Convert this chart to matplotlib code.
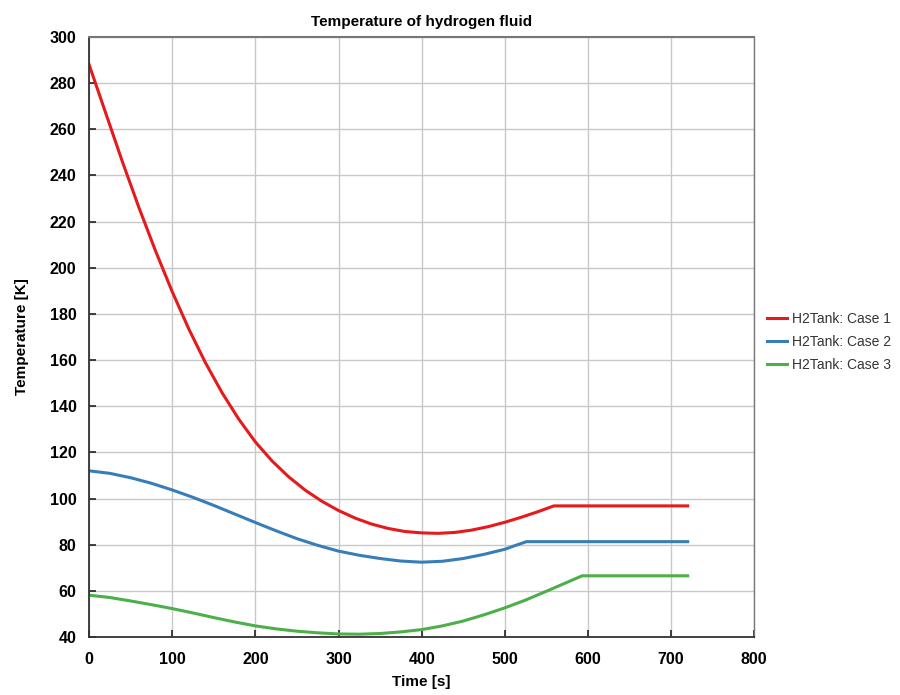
import matplotlib.pyplot as plt

plt.rcParams['font.family'] = ['Liberation Sans', 'DejaVu Sans']

# Case 1
t1 = [0, 20, 40, 60, 80, 100, 120, 140, 160, 180, 200, 220, 240, 260, 280,
      300, 320, 340, 360, 380, 400, 420, 440, 460, 480, 500, 520, 540, 559, 720]
temp1 = [288, 267, 246, 226, 207.2, 189.6, 173.4, 158.8, 145.8, 134.4, 124.5,
         116.3, 109.4, 103.6, 98.8, 94.8, 91.5, 88.9, 87.0, 85.7, 85.1, 84.9,
         85.3, 86.3, 87.8, 89.7, 91.9, 94.3, 96.8, 96.8]

# Case 2
t2 = [0, 25, 50, 75, 100, 125, 150, 175, 200, 225, 250, 275, 300, 325, 350,
      375, 400, 425, 450, 475, 500, 510, 526, 720]
temp2 = [112, 110.9, 109, 106.6, 103.7, 100.5, 97, 93.3, 89.6, 86, 82.6, 79.7,
         77.2, 75.4, 74, 72.9, 72.4, 72.8, 74, 75.8, 78, 79.3, 81.3, 81.3]

# Case 3
t3 = [0, 25, 50, 75, 100, 125, 150, 175, 200, 225, 250, 275, 300, 325, 350,
      375, 400, 425, 450, 475, 500, 525, 550, 575, 593, 720]
temp3 = [58.1, 57.1, 55.6, 54, 52.3, 50.4, 48.4, 46.5, 44.8, 43.5, 42.5, 41.8,
         41.3, 41.2, 41.5, 42.2, 43.2, 44.8, 46.9, 49.6, 52.6, 56, 59.8, 63.7,
         66.5, 66.5]

labels = ['H2Tank: Case 1', 'H2Tank: Case 2', 'H2Tank: Case 3']
colors = ['#e41a1c', '#377eb8', '#4daf4a']

fig = plt.figure(figsize=(9, 6.95), dpi=100)
ax = fig.add_axes([0.099, 0.0835, 0.739, 0.8633])

for t, temp, lab, c in zip([t1, t2, t3], [temp1, temp2, temp3], labels, colors):
    ax.plot(t, temp, color=c, linewidth=2.2, label=lab)

ax.set_xlim(0, 800)
ax.set_ylim(40, 300)
ax.set_xticks(range(0, 801, 100))
ax.set_yticks(range(40, 301, 20))
ax.grid(True, color='#c8c8c8', linewidth=1)
ax.set_axisbelow(True)
ax.tick_params(direction='in', length=5, width=1.2, labelsize=11.5, colors='#222222')
ax.tick_params(axis='x', pad=10.5)
ax.tick_params(axis='y', pad=9)
for lab in ax.get_xticklabels() + ax.get_yticklabels():
    lab.set_fontweight('semibold')
    lab.set_color('black')

ax.spines['left'].set_color('#333333')
ax.spines['bottom'].set_color('#333333')
ax.spines['left'].set_linewidth(1.3)
ax.spines['bottom'].set_linewidth(1.3)
ax.spines['top'].set_color('#777777')
ax.spines['right'].set_color('#777777')
ax.spines['top'].set_linewidth(1.5)
ax.spines['right'].set_linewidth(1.0)

ax.set_title('Temperature of hydrogen fluid', fontsize=11, fontweight='semibold', pad=8)
ax.set_xlabel('Time [s]', fontsize=11, fontweight='semibold', labelpad=6)
ax.set_ylabel('Temperature [K]', fontsize=11, fontweight='semibold', labelpad=15)

leg = ax.legend(loc='center left', bbox_to_anchor=(1.0, 0.492), frameon=False,
                fontsize=10, handlelength=1.45, handletextpad=0.35,
                labelspacing=0.65)
for txt in leg.get_texts():
    txt.set_color('#333333')

fig.savefig('out.png', dpi=100)
